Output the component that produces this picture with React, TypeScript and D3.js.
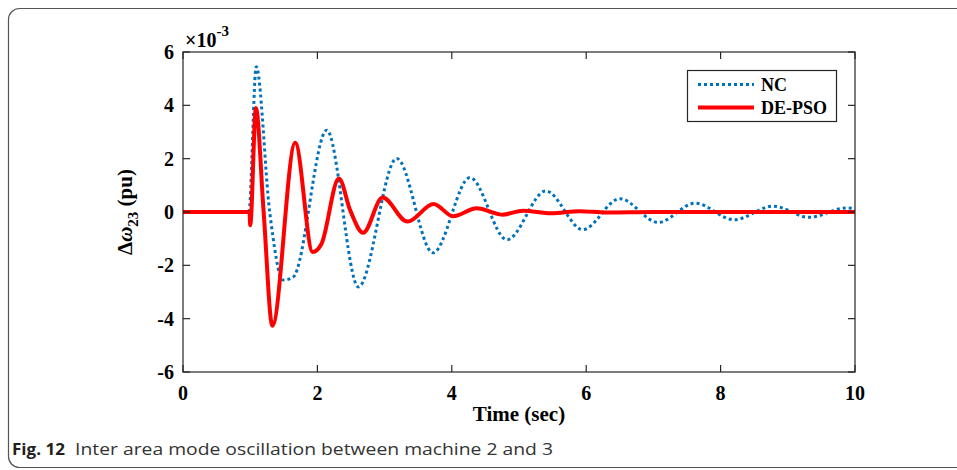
import React, { useEffect, useRef } from 'react';
import * as d3 from 'd3';

// NC (no controller) response, x10^-3 pu
const ncTime = [0, 0.98, 1.09, 1.29, 1.49, 1.64, 2.14, 2.61, 3.18, 3.72, 4.27, 4.82, 5.4, 5.95, 6.5, 7.07, 7.62, 8.2, 8.78, 9.32, 9.87, 10];
const ncValue = [0, 0, 5.45, 0, -2.55, -2.44, 3.07, -2.81, 2.01, -1.53, 1.29, -1.04, 0.79, -0.66, 0.5, -0.39, 0.33, -0.29, 0.22, -0.2, 0.15, 0.13];

// DE-PSO tuned response
const psoTime = [0, 0.99, 1.0, 1.085, 1.2, 1.33, 1.67, 1.93, 2.06, 2.32, 2.49, 2.68, 2.97, 3.34, 3.73, 4.02, 4.37, 4.75, 5.06, 5.48, 5.9, 6.3, 7, 10];
const psoValue = [0, 0, -0.5, 3.9, 0, -4.27, 2.6, -1.5, -1.2, 1.26, 0.05, -0.78, 0.54, -0.36, 0.3, -0.16, 0.14, -0.1, 0.05, -0.05, 0.03, -0.02, 0, 0];

const xTicks = [0, 2, 4, 6, 8, 10];
const yTicks = [-6, -4, -2, 0, 2, 4, 6];
const seriesNames = ['NC', 'DE-PSO'];

const W = 957;
const H = 470;
const serif = '"Liberation Serif", "Times New Roman", serif';

export default function App() {
  const ref = useRef<SVGSVGElement>(null);

  useEffect(() => {
    if (!ref.current) return;
    const svg = d3.select(ref.current);
    svg.selectAll('*').remove();

    const left = 183, top = 52, right = 855, bottom = 372;
    const x = d3.scaleLinear().domain([0, 10]).range([left, right]);
    const y = d3.scaleLinear().domain([-6, 6]).range([bottom, top]);

    // outer figure frame
    svg.append('rect')
      .attr('x', 8.5).attr('y', 8.5)
      .attr('width', 1000).attr('height', 459)
      .attr('rx', 11)
      .attr('fill', 'none').attr('stroke', '#555').attr('stroke-width', 1.2);

    svg.append('defs').append('clipPath').attr('id', 'plotclip')
      .append('rect').attr('x', left).attr('y', top - 1)
      .attr('width', right - left).attr('height', bottom - top + 2);

    const line = d3.line<[number, number]>()
      .x(d => x(d[0])).y(d => y(d[1]))
      .curve(d3.curveMonotoneX);

    const nc = ncTime.map((t, i) => [t, ncValue[i]] as [number, number]);
    const pso = psoTime.map((t, i) => [t, psoValue[i]] as [number, number]);

    const g = svg.append('g').attr('clip-path', 'url(#plotclip)');
    g.append('path').attr('d', line(nc))
      .attr('fill', 'none').attr('stroke', '#0072BD')
      .attr('stroke-width', 3).attr('stroke-dasharray', '3 3');
    g.append('path').attr('d', line(pso))
      .attr('fill', 'none').attr('stroke', '#FF0000')
      .attr('stroke-width', 4).attr('stroke-linejoin', 'round');

    // axes box with inward ticks
    const axisColor = '#262626';
    const tl = 7;
    const box = svg.append('g').attr('stroke', axisColor).attr('stroke-width', 1.2);
    box.append('rect').attr('x', left).attr('y', top)
      .attr('width', right - left).attr('height', bottom - top).attr('fill', 'none');
    xTicks.forEach(t => {
      box.append('line').attr('x1', x(t)).attr('x2', x(t)).attr('y1', bottom).attr('y2', bottom - tl);
      box.append('line').attr('x1', x(t)).attr('x2', x(t)).attr('y1', top).attr('y2', top + tl);
    });
    yTicks.forEach(v => {
      box.append('line').attr('x1', left).attr('x2', left + tl).attr('y1', y(v)).attr('y2', y(v));
      box.append('line').attr('x1', right).attr('x2', right - tl).attr('y1', y(v)).attr('y2', y(v));
    });

    const lab = svg.append('g').attr('font-family', serif).attr('font-weight', 'bold')
      .attr('font-size', 20).attr('fill', '#000');
    xTicks.forEach(t => {
      lab.append('text').attr('x', x(t)).attr('y', bottom + 28)
        .attr('text-anchor', 'middle').text(String(t));
    });
    yTicks.forEach(v => {
      lab.append('text').attr('x', left - 9).attr('y', y(v) + 7)
        .attr('text-anchor', 'end').text(String(v));
    });

    // exponent
    const ex = lab.append('text').attr('x', left + 2).attr('y', 46.5).attr('font-size', 20);
    ex.append('tspan').text('\u00D710');
    ex.append('tspan').attr('dy', -11).attr('font-size', 15).text('-3');

    // axis titles
    lab.append('text').attr('x', (left + right) / 2).attr('y', 420.5)
      .attr('text-anchor', 'middle').attr('font-size', 21).text('Time (sec)');

    const yl = lab.append('text')
      .attr('transform', `translate(132,${(top + bottom) / 2}) rotate(-90)`)
      .attr('text-anchor', 'middle').attr('font-size', 21);
    yl.append('tspan').text('\u0394');
    yl.append('tspan').attr('font-style', 'italic').text('\u03C9');
    yl.append('tspan').attr('dy', 6).attr('font-size', 15).text('23');
    yl.append('tspan').attr('dy', -6).text(' (pu)');

    // legend
    const lg = svg.append('g');
    lg.append('rect').attr('x', 687.5).attr('y', 70.5).attr('width', 149).attr('height', 51)
      .attr('fill', '#fff').attr('stroke', axisColor).attr('stroke-width', 1.2);
    const styles = [
      { c: '#0072BD', w: 3, dash: '3 3' },
      { c: '#FF0000', w: 4, dash: null },
    ];
    seriesNames.forEach((name, i) => {
      const yy = 84.5 + i * 23;
      const l = lg.append('line').attr('x1', 698).attr('x2', 754).attr('y1', yy).attr('y2', yy)
        .attr('stroke', styles[i].c).attr('stroke-width', styles[i].w);
      if (styles[i].dash) l.attr('stroke-dasharray', styles[i].dash);
      lg.append('text').attr('x', 761).attr('y', yy + 6)
        .attr('font-family', serif).attr('font-weight', 'bold').attr('font-size', 18)
        .text(name);
    });

    // caption
    const cap = svg.append('g')
      .attr('font-family', '"Open Sans", "Noto Sans", sans-serif').attr('font-size', 16.5).attr('fill', '#231f20');
    cap.append('text').attr('x', 12).attr('y', 455).attr('font-weight', 'bold')
      .attr('textLength', 53).attr('lengthAdjust', 'spacingAndGlyphs').text('Fig. 12');
    cap.append('text').attr('x', 75).attr('y', 455).attr('fill', '#333')
      .attr('textLength', 478).attr('lengthAdjust', 'spacingAndGlyphs')
      .text('Inter area mode oscillation between machine 2 and 3');
  }, []);

  return (
    <svg ref={ref} width={W} height={H}
      style={{ position: 'absolute', left: 0, top: 0, background: '#fff' }} />
  );
}
